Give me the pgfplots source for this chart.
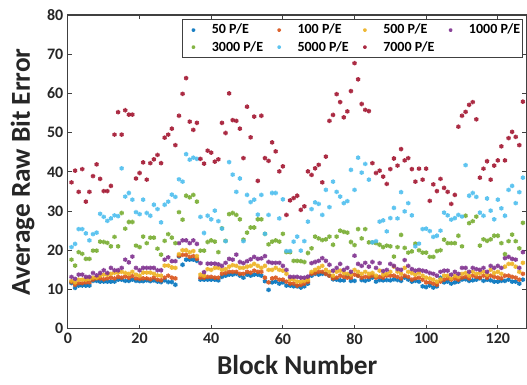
\documentclass[border=0pt]{standalone}
\usepackage{fontspec}
\setmainfont{Carlito}
\usepackage{pgfplots}
\usepackage{pgfplotstable}
\pgfplotsset{compat=1.18}
\definecolor{c1}{RGB}{0,114,189}
\definecolor{c2}{RGB}{217,83,25}
\definecolor{c3}{RGB}{237,177,32}
\definecolor{c4}{RGB}{126,47,142}
\definecolor{c5}{RGB}{119,172,48}
\definecolor{c6}{RGB}{77,190,238}
\definecolor{c7}{RGB}{162,20,47}
\pgfplotstableread{
x b o y p g lb r
1 11.6 11.9 12.2 13.2 17.6 20.8 37.3
2 10.4 11.2 11.8 12.7 16.1 21.6 40.3
3 11.0 11.6 12.5 13.8 19.5 25.4 34.9
4 11.0 11.6 12.5 13.8 19.1 25.4 40.7
5 11.0 11.8 12.5 13.2 17.8 24.3 32.4
6 11.0 11.8 12.7 13.2 17.8 22.5 34.9
7 12.2 12.5 13.0 14.2 19.9 24.1 38.9
8 12.2 12.8 13.0 13.6 19.9 24.5 41.9
9 12.0 12.8 13.5 14.2 22.2 29.3 38.2
10 12.0 12.6 13.8 14.9 22.1 28.5 35.1
11 12.0 12.8 13.8 14.2 21.9 27.5 35.1
12 12.0 13.0 14.0 15.5 21.0 28.1 36.4
13 12.0 12.8 14.2 14.9 23.4 28.9 49.5
14 12.5 13.2 14.3 14.9 21.0 28.7 55.2
15 12.5 13.0 14.5 15.5 29.5 40.9 49.5
16 12.2 13.3 14.2 17.6 25.5 33.7 55.7
17 12.2 13.0 14.0 16.9 27.2 34.6 54.6
18 12.5 13.4 14.5 18.4 27.2 32.9 54.6
19 12.2 12.8 13.8 15.5 21.2 29.7 38.3
20 12.1 12.7 13.5 14.9 20.8 29.2 39.7
21 12.1 12.8 14.3 15.5 23.5 32.9 42.4
22 12.3 12.8 14.3 15.5 21.8 29.5 38.0
23 12.1 12.6 14.3 15.5 23.2 28.8 42.2
24 12.3 13.0 14.0 15.5 23.2 31.6 43.2
25 12.0 12.5 13.6 14.9 20.4 30.5 44.3
26 11.9 12.3 13.5 14.9 18.9 27.1 42.2
27 12.3 13.0 16.1 17.6 22.4 31.6 48.7
28 11.9 13.5 16.1 18.2 24.1 32.4 49.5
29 11.9 13.0 15.6 17.2 23.2 34.2 51.0
30 11.2 12.8 15.5 17.2 21.8 33.6 46.8
31 18.4 18.6 19.0 21.8 29.7 38.1 54.3
32 16.3 18.8 20.0 22.5 27.8 37.5 59.9
33 17.6 18.8 20.0 22.5 33.9 44.5 63.9
34 17.6 18.3 19.5 21.8 33.5 43.1 52.8
35 17.6 18.5 19.8 22.5 34.1 43.6 50.7
36 17.3 17.8 18.5 21.6 32.4 43.3 52.5
37 12.5 13.0 13.8 16.7 19.9 28.5 43.3
38 12.5 13.0 13.5 14.4 19.9 24.4 42.1
39 12.5 13.2 15.2 16.6 22.1 28.8 45.4
40 12.5 13.2 15.0 16.6 22.5 27.9 44.9
41 12.5 13.0 15.5 16.6 22.2 30.1 42.6
42 12.3 13.0 15.5 16.4 19.5 27.4 43.2
43 13.2 14.0 15.0 16.0 25.6 25.5 52.5
44 13.5 14.2 15.2 16.8 22.4 22.3 49.9
45 13.8 14.5 15.8 17.8 29.2 42.5 60.0
46 13.8 14.5 16.2 17.6 29.5 39.3 53.2
47 14.0 14.5 16.0 18.9 29.0 34.9 53.0
48 13.5 14.0 15.5 17.0 27.9 38.3 51.0
49 13.0 14.0 15.5 16.7 22.7 22.3 43.5
50 13.8 14.5 15.8 17.2 24.5 34.1 56.6
51 13.5 14.3 16.0 17.7 25.8 32.3 48.8
52 13.8 14.8 16.5 18.3 25.8 32.9 54.1
53 13.8 14.5 16.0 17.8 27.9 29.1 37.7
54 13.5 14.5 15.5 17.9 27.9 34.1 54.3
55 12.1 13.0 16.0 18.5 24.2 24.2 43.5
56 9.9 11.8 15.0 17.0 21.5 29.0 42.8
57 11.8 12.8 15.0 16.8 22.2 34.6 47.5
58 12.0 13.0 15.5 16.8 22.5 34.6 45.2
59 11.5 12.5 15.0 16.8 22.2 28.1 40.1
60 11.8 12.5 14.8 16.0 24.2 33.0 41.4
61 11.0 12.0 14.0 15.0 19.5 19.8 29.0
62 11.0 11.5 12.5 13.2 19.5 19.8 32.7
63 10.8 11.5 12.5 13.2 17.3 22.2 33.3
64 10.8 11.0 12.0 13.2 17.3 23.5 33.9
65 10.5 11.2 12.0 13.0 17.2 19.9 30.3
66 10.8 11.5 12.2 13.0 17.0 22.3 31.2
67 11.5 12.0 12.5 13.3 19.3 27.3 40.1
68 13.5 14.0 14.5 16.7 20.5 30.5 39.2
69 14.0 14.2 15.0 17.0 23.5 32.2 40.9
70 13.8 14.5 15.5 17.3 23.0 31.8 41.8
71 14.0 14.5 16.0 18.0 22.6 29.0 37.3
72 14.0 14.0 15.0 17.3 22.8 35.4 43.9
73 13.5 13.5 14.5 16.3 23.5 31.0 53.0
74 12.6 12.8 13.5 14.8 21.4 37.5 54.5
75 12.5 13.0 14.5 15.5 23.5 34.9 59.8
76 12.3 13.5 14.8 16.5 25.0 33.7 57.8
77 12.3 13.2 14.2 15.0 24.7 32.0 53.9
78 13.5 13.0 14.0 15.5 24.5 32.5 55.4
79 12.2 13.0 13.8 14.5 22.1 40.5 60.6
80 12.2 13.8 15.0 18.6 21.3 35.4 67.7
81 13.5 13.5 14.5 16.5 25.4 43.6 63.6
82 12.4 13.0 14.0 16.0 23.0 39.8 57.3
83 12.2 13.2 14.5 16.8 25.4 42.0 55.8
84 12.5 13.2 14.0 15.8 22.0 38.0 55.5
85 13.0 13.5 14.2 17.0 22.0 22.0 42.2
86 12.0 13.0 13.5 15.5 21.8 22.3 39.7
87 12.4 13.2 14.8 16.7 21.4 27.3 40.3
88 12.3 13.0 13.8 14.7 20.8 27.6 38.8
89 12.4 13.5 14.0 15.0 21.2 24.8 36.9
90 12.3 13.5 14.5 16.5 21.0 28.2 40.7
91 12.6 13.5 15.8 16.0 18.4 30.8 43.4
92 12.4 13.2 14.5 15.2 20.8 28.1 41.6
93 12.2 12.8 14.0 15.0 23.9 34.8 45.8
94 13.0 13.5 15.5 17.5 20.6 29.9 42.9
95 12.5 13.2 14.5 16.0 19.4 32.0 43.5
96 12.0 12.5 14.2 15.2 19.7 28.9 40.7
97 12.2 12.8 13.8 14.8 21.7 21.0 37.5
98 12.0 13.0 14.2 15.0 20.0 21.7 40.8
99 10.8 12.5 13.5 14.8 19.4 25.4 38.0
100 10.6 11.8 13.0 14.6 19.4 25.5 40.8
101 11.0 11.8 12.8 14.2 18.3 24.9 32.6
102 10.5 11.5 12.5 14.0 18.3 23.4 36.8
103 10.8 11.2 12.0 13.5 19.8 23.7 35.1
104 13.0 12.0 12.6 14.5 20.0 25.0 38.2
105 11.8 12.5 13.5 14.8 22.7 29.6 35.9
106 12.0 12.8 13.5 14.8 21.8 28.9 34.9
107 11.5 12.5 12.8 13.8 21.8 27.8 31.8
108 11.8 12.8 13.5 14.5 21.8 28.2 34.1
109 12.0 12.5 13.2 14.0 23.7 29.0 51.5
110 12.5 13.0 14.0 15.5 21.0 28.6 54.3
111 12.6 13.2 14.2 15.5 28.8 41.7 55.3
112 12.2 12.8 13.5 14.5 26.9 33.9 57.1
113 12.3 13.5 14.5 15.5 27.4 34.6 57.8
114 12.5 13.2 14.0 15.2 28.6 33.6 53.4
115 12.8 13.0 14.2 15.0 21.2 29.6 38.5
116 12.2 13.5 14.5 15.5 22.8 28.8 40.8
117 12.5 13.0 13.8 14.5 22.4 33.2 42.7
118 12.3 13.5 15.0 16.0 22.8 30.1 38.0
119 12.0 13.2 14.2 15.5 23.7 27.9 41.6
120 12.0 13.0 14.5 16.0 23.7 32.9 42.9
121 12.2 12.8 14.0 15.5 21.8 30.7 46.5
122 12.2 13.5 15.8 18.0 19.0 28.8 42.9
123 12.5 13.5 16.5 18.3 22.3 35.4 48.6
124 12.0 13.2 16.5 17.8 24.0 36.4 50.2
125 12.0 13.0 15.8 17.6 22.3 32.0 48.9
126 11.5 12.5 14.5 15.5 20.5 34.8 46.8
127 12.5 14.0 16.8 19.5 27.0 38.5 57.9
}\data
\begin{document}
\begin{tikzpicture}
\begin{axis}[
  scale only axis, width=344.25pt, height=235.5pt,
  xmin=0, xmax=128, ymin=0, ymax=80,
  xtick={0,20,...,120}, ytick={0,10,...,80},
  xtick pos=both, ytick pos=both,
  xticklabel pos=lower, yticklabel pos=left,
  tick align=inside, major tick length=3pt,
  axis line style={black!75, line width=0.8pt},
  tick style={black!75, line width=0.8pt},
  /pgf/number format/assume math mode=true,
  every tick label/.append style={font=\fontsize{12}{14}\selectfont\bfseries, text=black!85},
  xlabel={Block Number}, ylabel={Average Raw Bit Error},
  label style={font=\fontsize{20.5}{24}\selectfont\bfseries, text=black!85},
  xlabel style={at={(axis description cs:0.5,-0.115)}, anchor=center},
  ylabel style={at={(axis description cs:-0.099,0.5)}, anchor=center},
  legend columns=4,
  legend cell align=left,
  legend style={at={(0.991,0.987)}, anchor=north east, draw=black!75, line width=0.6pt, fill=white,
    inner xsep=5.25pt, inner ysep=2.5pt, row sep=2pt,
    font=\fontsize{10.5}{12}\selectfont\bfseries,
    nodes={inner xsep=1pt, inner ysep=1pt}},
  legend image code/.code={\path (0pt,0pt) (15.5pt,0pt); \draw[#1,mark size=1.3pt] plot coordinates {(3pt,0pt)};},
  every axis plot/.append style={only marks, mark=asterisk, mark size=1.7pt, mark options={line width=1.1pt, opacity=0.9}},
]
\addplot[color=c1] table[x=x,y=b]{\data};
\addlegendentry{\makebox[46.25pt][l]{50 P/E}}
\addplot[color=c2] table[x=x,y=o]{\data};
\addlegendentry{\makebox[46.25pt][l]{100 P/E}}
\addplot[color=c3] table[x=x,y=y]{\data};
\addlegendentry{\makebox[46.25pt][l]{500 P/E}}
\addplot[color=c4] table[x=x,y=p]{\data};
\addlegendentry{\makebox[33.5pt][l]{1000 P/E}}
\addplot[color=c5] table[x=x,y=g]{\data};
\addlegendentry{\makebox[46.25pt][l]{3000 P/E}}
\addplot[color=c6] table[x=x,y=lb]{\data};
\addlegendentry{\makebox[46.25pt][l]{5000 P/E}}
\addplot[color=c7] table[x=x,y=r]{\data};
\addlegendentry{\makebox[46.25pt][l]{7000 P/E}}
\end{axis}
\pgfresetboundingbox
\path[use as bounding box] ([shift={(-51pt,-42pt)}]current axis.south west) rectangle ([shift={(0.4pt,11.25pt)}]current axis.north east);
\end{tikzpicture}
\end{document}
